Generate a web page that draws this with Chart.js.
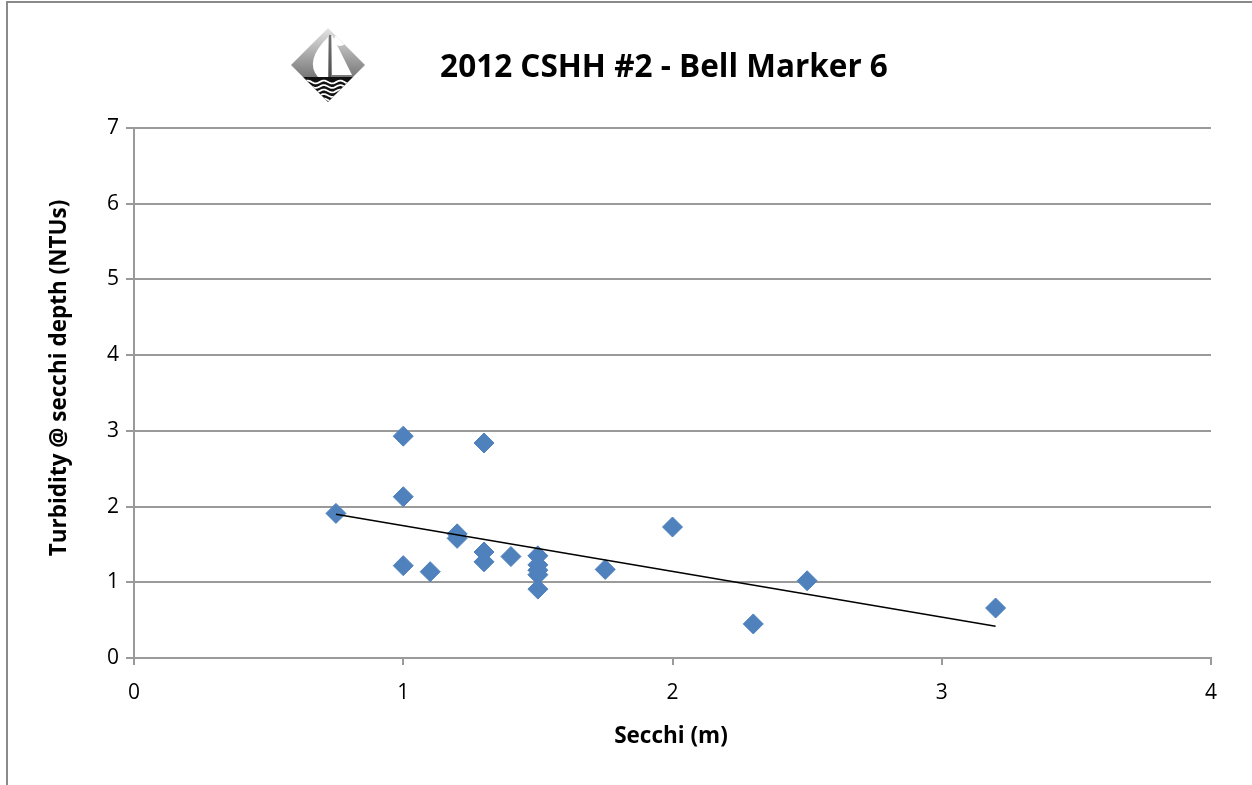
<!DOCTYPE html>
<html>
<head>
<meta charset="utf-8">
<script src="https://cdn.jsdelivr.net/npm/chart.js@4.4.0/dist/chart.umd.min.js"></script>
<style>
  html, body { margin: 0; padding: 0; background: #fff; }
  canvas { display: block; }
</style>
</head>
<body>
<canvas id="secchiChart" width="1252" height="785" style="width:1252px;height:785px"></canvas>
<script>
// values
const secchi = [0.75, 1.0, 1.0, 1.0, 1.1, 1.2, 1.2, 1.3, 1.3, 1.3, 1.4, 1.5, 1.5, 1.5, 1.5, 1.5, 1.75, 2.0, 2.3, 2.5, 3.2];
const turbidity = [1.91, 2.93, 2.13, 1.22, 1.14, 1.64, 1.58, 2.84, 1.40, 1.27, 1.34, 1.35, 1.23, 1.16, 1.10, 0.91, 1.17, 1.73, 0.45, 1.02, 0.66];
const xTicks = [0, 1, 2, 3, 4];
const yTicks = [0, 1, 2, 3, 4, 5, 6, 7];
const titleText = '2012 CSHH #2 - Bell Marker 6';
const xTitle = 'Secchi (m)';
const yTitle = 'Turbidity @ secchi depth (NTUs)';

const gridGray = '#9a9a9a';
const markerBlue = '#4f81bd';

// linear trendline (least squares) over the observed points
function trendline(xs, ys) {
    const n = xs.length;
    const mx = xs.reduce((a, b) => a + b, 0) / n;
    const my = ys.reduce((a, b) => a + b, 0) / n;
    let sxy = 0, sxx = 0;
    for (let i = 0; i < n; i++) {
        sxy += (xs[i] - mx) * (ys[i] - my);
        sxx += (xs[i] - mx) * (xs[i] - mx);
    }
    const slope = sxy / sxx;
    const x0 = Math.min(...xs), x1 = Math.max(...xs);
    return [
        { x: x0, y: my + slope * (x0 - mx) },
        { x: x1, y: my + slope * (x1 - mx) }
    ];
}

function drawLogo(ctx, cx, cy, r) {
    ctx.save();
    ctx.beginPath();
    ctx.moveTo(cx, cy - r);
    ctx.lineTo(cx + r, cy);
    ctx.lineTo(cx, cy + r);
    ctx.lineTo(cx - r, cy);
    ctx.closePath();
    ctx.clip();
    const g = ctx.createLinearGradient(0, cy - r, 0, cy + 12);
    g.addColorStop(0, '#e4e4e4');
    g.addColorStop(1, '#787878');
    ctx.fillStyle = g;
    ctx.fillRect(cx - r, cy - r, 2 * r, r + 12);
    ctx.fillStyle = '#111';
    ctx.fillRect(cx - r, cy + 12, 2 * r, r);
    // moon
    ctx.fillStyle = '#fff';
    ctx.beginPath();
    ctx.arc(cx + 12, cy - 25, 6, 0, Math.PI * 2);
    ctx.fill();
    // sails
    ctx.beginPath();
    ctx.moveTo(cx + 4, cy - 30);
    ctx.lineTo(cx + 24, cy + 10);
    ctx.lineTo(cx + 4, cy + 10);
    ctx.closePath();
    ctx.fill();
    ctx.beginPath();
    ctx.moveTo(cx, cy - 28);
    ctx.quadraticCurveTo(cx - 24, cy - 4, cx - 10, cy + 12);
    ctx.lineTo(cx, cy + 12);
    ctx.closePath();
    ctx.fill();
    ctx.strokeStyle = '#333';
    ctx.lineWidth = 1.2;
    ctx.beginPath();
    ctx.moveTo(cx + 2, cy - 30);
    ctx.lineTo(cx + 2, cy + 12);
    ctx.stroke();
    // waves
    ctx.strokeStyle = '#fff';
    ctx.lineWidth = 1.8;
    for (let wy = cy + 17; wy < cy + r; wy += 4.5) {
        ctx.beginPath();
        for (let wx = cx - r; wx <= cx + r; wx += 1) {
            const yy = wy + 1.4 * Math.sin((wx - cx) / 2.6);
            if (wx === cx - r) ctx.moveTo(wx, yy); else ctx.lineTo(wx, yy);
        }
        ctx.stroke();
    }
    ctx.restore();
}

const decorPlugin = {
    id: 'decor',
    beforeDraw(chart) {
        const ctx = chart.ctx;
        ctx.save();
        ctx.fillStyle = '#fff';
        ctx.fillRect(0, 0, chart.width, chart.height);
        ctx.strokeStyle = '#8a8a8a';
        ctx.lineWidth = 2;
        ctx.beginPath();
        ctx.moveTo(7, chart.height + 2);
        ctx.lineTo(7, 2);
        ctx.lineTo(chart.width + 2, 2);
        ctx.stroke();
        ctx.restore();
    },
    afterDraw(chart) {
        const ctx = chart.ctx;
        ctx.save();
        ctx.fillStyle = '#000';
        ctx.textAlign = 'center';
        ctx.textBaseline = 'middle';
        ctx.font = 'bold 31.5px "Open Sans", sans-serif';
        ctx.fillText(titleText, 664, 68);
        ctx.font = 'bold 22.5px "Open Sans", sans-serif';
        ctx.fillText(xTitle, 671, 737);
        ctx.translate(60, 378);
        ctx.rotate(-Math.PI / 2);
        ctx.fillText(yTitle, 0, 0);
        ctx.restore();
        drawLogo(ctx, 328, 65, 37);
    }
};

const ctx = document.getElementById('secchiChart');
new Chart(ctx, {
    type: 'scatter',
    data: {
        datasets: [{
            label: 'Turbidity',
            data: secchi.map((x, i) => ({ x: x, y: turbidity[i] })),
            pointStyle: 'rectRot',
            pointRadius: 10,
            pointHoverRadius: 10,
            backgroundColor: markerBlue,
            borderColor: markerBlue,
            borderWidth: 1,
            order: 2
        }, {
            label: 'Linear',
            type: 'line',
            data: trendline(secchi, turbidity),
            borderColor: '#000',
            borderWidth: 1.5,
            pointRadius: 0,
            fill: false,
            order: 1
        }]
    },
    options: {
        responsive: false,
        devicePixelRatio: 1,
        animation: false,
        layout: {
            padding: { left: 0, right: 41, top: 128, bottom: 0 }
        },
        plugins: {
            legend: { display: false },
            title: { display: false },
            tooltip: { enabled: false }
        },
        scales: {
            x: {
                type: 'linear',
                min: 0,
                max: 4,
                afterBuildTicks(scale) {
                    scale.ticks = xTicks.map(v => ({ value: v }));
                },
                afterFit(scale) {
                    scale.height = 127;
                },
                grid: {
                    drawOnChartArea: false,
                    drawTicks: true,
                    tickLength: 7,
                    color: gridGray,
                    lineWidth: 2
                },
                border: { color: gridGray, width: 2 },
                ticks: {
                    padding: 15,
                    color: '#000',
                    font: { size: 21, family: "'Open Sans', sans-serif" }
                }
            },
            y: {
                min: 0,
                max: 7,
                afterBuildTicks(scale) {
                    scale.ticks = yTicks.map(v => ({ value: v }));
                },
                afterFit(scale) {
                    scale.width = 134;
                },
                grid: {
                    drawTicks: true,
                    tickLength: 8,
                    color: gridGray,
                    lineWidth: 2
                },
                border: { color: gridGray, width: 2 },
                ticks: {
                    padding: 7,
                    color: '#000',
                    font: { size: 21, family: "'Open Sans', sans-serif" }
                }
            }
        }
    },
    plugins: [decorPlugin]
});
</script>
</body>
</html>
